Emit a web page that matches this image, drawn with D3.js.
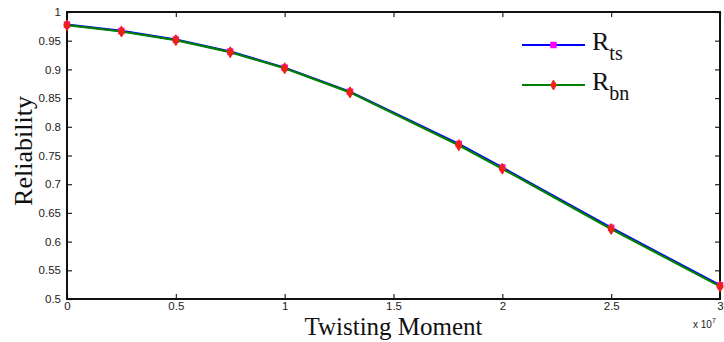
<!DOCTYPE html>
<html>
<head>
<meta charset="utf-8">
<script src="https://cdn.jsdelivr.net/npm/d3@7"></script>
<style>
  body { margin: 0; background: #fff; }
  svg { display: block; }
</style>
</head>
<body>
<div id="chart"></div>
<script>
// twisting moment (x 10^7)
const moment = [0, 0.25, 0.5, 0.75, 1, 1.3, 1.8, 2, 2.5, 3];
// reliability series
const rTs = [0.978, 0.967, 0.952, 0.931, 0.903, 0.861, 0.770, 0.729, 0.624, 0.524];
const rBn = [0.977, 0.966, 0.951, 0.930, 0.902, 0.860, 0.768, 0.727, 0.622, 0.522];
const xTicks = [0, 0.5, 1, 1.5, 2, 2.5, 3];
const yTicks = [0.5, 0.55, 0.6, 0.65, 0.7, 0.75, 0.8, 0.85, 0.9, 0.95, 1];

var W = 724, H = 342;
var margin = {top: 12, right: 4, bottom: 43, left: 67};
var width = W - margin.left - margin.right,
    height = H - margin.top - margin.bottom;

var svg = d3.select("#chart").append("svg")
    .attr("width", W)
    .attr("height", H);
var g = svg.append("g")
    .attr("transform", "translate(" + margin.left + "," + margin.top + ")");

var x = d3.scaleLinear().domain([0, 3]).range([0, width]);
var y = d3.scaleLinear().domain([0.5, 1]).range([height, 0]);

// axes, ticks pointing inward on all sides
const tickFont = "'Liberation Sans', Arial, sans-serif";
function styleAxis(sel) {
  sel.select(".domain").remove();
  sel.selectAll(".tick line").attr("stroke", "#222").attr("stroke-width", 1.2);
  sel.selectAll(".tick text").attr("fill", "#222")
    .style("font-family", tickFont).style("font-size", "11.5px");
}

g.append("g")
    .attr("transform", "translate(0," + height + ")")
    .call(d3.axisBottom(x).tickValues(xTicks).tickSizeInner(-5).tickPadding(3)
      .tickFormat(d3.format("")))
    .call(styleAxis);
g.append("g")
    .call(d3.axisTop(x).tickValues(xTicks).tickSizeInner(-5).tickFormat(""))
    .call(styleAxis);
g.append("g")
    .call(d3.axisLeft(y).tickValues(yTicks).tickSizeInner(-5).tickPadding(6)
      .tickFormat(d3.format("")))
    .call(styleAxis);
g.append("g")
    .attr("transform", "translate(" + width + ",0)")
    .call(d3.axisRight(y).tickValues(yTicks).tickSizeInner(-5).tickFormat(""))
    .call(styleAxis);

// box
g.append("rect")
    .attr("width", width).attr("height", height)
    .attr("fill", "none").attr("stroke", "#111").attr("stroke-width", 2);

var series = [
  {name: "ts", values: rTs, line: "#0000ff", marker: "#ff00ff", shape: d3.symbolSquare, size: 42},
  {name: "bn", values: rBn, line: "#007f00", marker: "#ee2211", shape: d3.symbolDiamond, size: 28}
];

var line = d3.line()
    .x(function(d) { return x(d[0]); })
    .y(function(d) { return y(d[1]); });

series.forEach(function(s) {
  var pts = moment.map(function(m, i) { return [m, s.values[i]]; });
  g.append("path")
      .datum(pts)
      .attr("fill", "none")
      .attr("stroke", s.line)
      .attr("stroke-width", 2.2)
      .attr("d", line);
  g.selectAll(".m-" + s.name)
      .data(pts)
    .enter().append("path")
      .attr("class", "m-" + s.name)
      .attr("transform", function(d) { return "translate(" + x(d[0]) + "," + y(d[1]) + ")"; })
      .attr("d", d3.symbol().type(s.shape).size(s.size))
      .attr("fill", s.marker)
      .attr("stroke", s.marker)
      .attr("stroke-width", s.name == "bn" ? 1.5 : 0)
      .attr("stroke-linejoin", "round");
});

// axis labels
const serif = "'Liberation Serif', 'Times New Roman', serif";
svg.append("text")
    .attr("x", margin.left + width / 2)
    .attr("y", 335)
    .attr("text-anchor", "middle")
    .style("font-family", serif).style("font-size", "25px")
    .attr("fill", "#111")
    .text("Twisting Moment");

svg.append("text")
    .attr("transform", "translate(32,151) rotate(-90)")
    .attr("text-anchor", "middle")
    .style("font-family", serif).style("font-size", "26px")
    .attr("fill", "#111")
    .text("Reliability");

// exponent note
var ex = svg.append("text")
    .attr("x", 693).attr("y", 328)
    .style("font-family", tickFont).style("font-size", "10px")
    .attr("fill", "#222");
ex.append("tspan").text("x 10");
ex.append("tspan").attr("dy", -5).style("font-size", "7px").text("7");

// legend
var legend = svg.append("g").attr("transform", "translate(522,45)");
series.forEach(function(s, i) {
  var row = legend.append("g").attr("transform", "translate(0," + (i * 40) + ")");
  row.append("line")
      .attr("x1", 0).attr("x2", 63)
      .attr("stroke", s.line).attr("stroke-width", 2.2);
  row.append("path")
      .attr("transform", "translate(31.5,0)")
      .attr("d", d3.symbol().type(s.shape).size(s.size))
      .attr("fill", s.marker)
      .attr("stroke", s.marker)
      .attr("stroke-width", s.name == "bn" ? 1 : 0);
  var t = row.append("text")
      .attr("x", 70).attr("y", 5)
      .style("font-family", serif).style("font-size", "26px")
      .attr("fill", "#111");
  t.append("tspan").text("R");
  t.append("tspan").attr("dy", 10).style("font-size", "20px").text(s.name);
});
</script>
</body>
</html>
